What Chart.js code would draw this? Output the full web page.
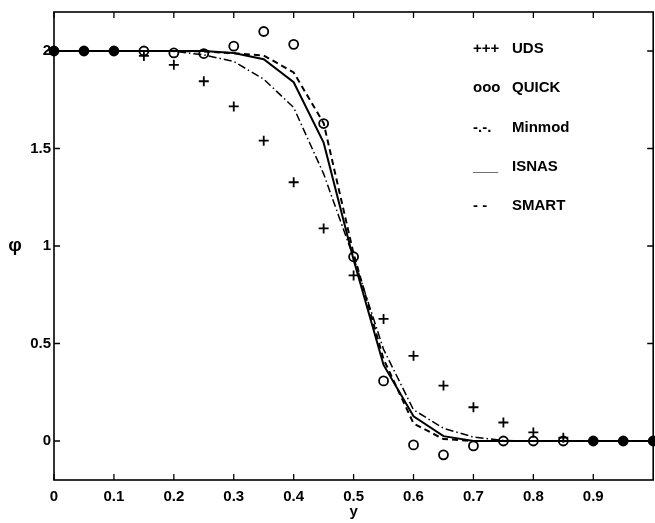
<!DOCTYPE html>
<html>
<head>
<meta charset="utf-8">
<script src="https://cdn.jsdelivr.net/npm/chart.js@4.4.1/dist/chart.umd.min.js"></script>
<style>
  html, body { margin: 0; padding: 0; background: #fff; overflow: hidden; }
  #graphDiv { width: 660px; height: 523px; }
</style>
</head>
<body>
<div id="graphDiv"><canvas id="dataChart" width="660" height="523"></canvas></div>
<script>
// Positions le long de y
const xs = [0, 0.05, 0.1, 0.15, 0.2, 0.25, 0.3, 0.35, 0.4, 0.45, 0.5,
            0.55, 0.6, 0.65, 0.7, 0.75, 0.8, 0.85, 0.9, 0.95, 1.0];

// Valeurs de phi pour chaque schéma
const uds    = [2, 2, 2, 1.975, 1.929, 1.845, 1.716, 1.54, 1.327, 1.09, 0.849,
                0.626, 0.437, 0.284, 0.173, 0.095, 0.044, 0.017, 0, 0, 0];
const quick  = [2, 2, 2, 2, 1.99, 1.987, 2.025, 2.10, 2.034, 1.628, 0.945,
                0.308, -0.02, -0.071, -0.025, 0, 0, 0, 0, 0, 0];
const minmod = [2, 2, 2, 2, 1.998, 1.98, 1.946, 1.856, 1.71, 1.37, 0.94,
                0.47, 0.16, 0.065, 0.02, 0.003, 0, 0, 0, 0, 0];
const isnas  = [2, 2, 2, 2, 2, 2, 1.99, 1.958, 1.84, 1.53, 0.93,
                0.39, 0.127, 0.025, 0, 0, 0, 0, 0, 0, 0];
const smart  = [2, 2, 2, 2, 2, 1.998, 1.988, 1.977, 1.89, 1.63, 0.96,
                0.42, 0.09, 0.01, 0, 0, 0, 0, 0, 0, 0];

// Graduations
const xTicks = [0, 0.1, 0.2, 0.3, 0.4, 0.5, 0.6, 0.7, 0.8, 0.9];
const yTicks = [0, 0.5, 1, 1.5, 2];

// Légende
const legendNames = ['UDS', 'QUICK', 'Minmod', 'ISNAS', 'SMART'];
const legendSymbols = ['+++', 'ooo', '-.-.', '___', '- -'];

const FONT = 'bold 15px "Liberation Sans", Arial, sans-serif';

function toPoints(values) {
    return values.map((v, i) => ({ x: xs[i], y: v }));
}

// Cadre, graduations vers l'intérieur, titres et légende
const framePlugin = {
    id: 'frame',
    afterDraw(chart) {
        const ctx = chart.ctx;
        const a = chart.chartArea;
        const sx = chart.scales.x;
        const sy = chart.scales.y;
        const t = 6;
        ctx.save();
        ctx.strokeStyle = '#000';
        ctx.lineWidth = 1.6;
        ctx.strokeRect(a.left, a.top, a.right - a.left, a.bottom - a.top);
        ctx.lineWidth = 1.3;
        ctx.beginPath();
        xTicks.forEach(v => {
            const px = sx.getPixelForValue(v);
            ctx.moveTo(px, a.bottom); ctx.lineTo(px, a.bottom - t);
            ctx.moveTo(px, a.top); ctx.lineTo(px, a.top + t);
        });
        yTicks.forEach(v => {
            const py = sy.getPixelForValue(v);
            ctx.moveTo(a.left, py); ctx.lineTo(a.left + t, py);
            ctx.moveTo(a.right, py); ctx.lineTo(a.right - t, py);
        });
        ctx.stroke();

        // Titres des axes
        ctx.fillStyle = '#000';
        ctx.textAlign = 'center';
        ctx.textBaseline = 'middle';
        ctx.font = 'bold 19px "Liberation Sans", Arial, sans-serif';
        ctx.fillText('\u03C6', 15, sy.getPixelForValue(1));
        ctx.font = FONT;
        ctx.fillText('y', sx.getPixelForValue(0.5), 512);

        // Légende
        ctx.textAlign = 'left';
        legendNames.forEach((name, i) => {
            const y = 49 + i * 39.2;
            ctx.fillText(legendSymbols[i], 473, y);
            ctx.fillText(name, 512, y);
        });
        ctx.restore();
    }
};

const ctx = document.getElementById('dataChart').getContext('2d');

const dataChart = new Chart(ctx, {
    type: 'line',
    data: {
        datasets: [
            {
                label: 'Minmod',
                data: toPoints(minmod),
                borderColor: '#000',
                borderWidth: 1.5,
                borderDash: [8, 3, 1.5, 3],
                pointRadius: 0
            },
            {
                label: 'SMART',
                data: toPoints(smart),
                borderColor: '#000',
                borderWidth: 2,
                borderDash: [6, 4],
                pointRadius: 0
            },
            {
                label: 'ISNAS',
                data: toPoints(isnas),
                borderColor: '#000',
                borderWidth: 2,
                pointRadius: 0
            },
            {
                label: 'QUICK',
                data: toPoints(quick),
                showLine: false,
                clip: false,
                pointStyle: 'circle',
                pointRadius: 4.5,
                pointBorderWidth: 1.8,
                pointBorderColor: '#000',
                // les marqueurs confondus avec UDS paraissent pleins
                pointBackgroundColor: c => Math.abs(uds[c.dataIndex] - quick[c.dataIndex]) < 0.005 ? '#000' : 'rgba(255,255,255,0)'
            },
            {
                label: 'UDS',
                data: toPoints(uds),
                showLine: false,
                clip: false,
                pointStyle: 'cross',
                pointRadius: 5,
                pointBorderWidth: 1.8,
                pointBorderColor: '#000'
            }
        ]
    },
    options: {
        responsive: false,
        animation: false,
        devicePixelRatio: 1,
        layout: { padding: { top: 8, right: 3, left: 0, bottom: 0 } },
        plugins: {
            legend: { display: false },
            tooltip: { enabled: false }
        },
        elements: { line: { tension: 0 } },
        scales: {
            x: {
                type: 'linear',
                min: 0,
                max: 1,
                grid: { display: false, drawTicks: false },
                border: { display: false },
                afterBuildTicks: s => { s.ticks = xTicks.map(v => ({ value: v })); },
                afterFit: s => { s.height = 43; },
                ticks: {
                    color: '#000',
                    font: { family: '"Liberation Sans", Arial, sans-serif', size: 15, weight: 'bold' },
                    padding: 8,
                    maxRotation: 0,
                    callback: v => String(v)
                }
            },
            y: {
                min: -0.2,
                max: 2.2,
                grid: { display: false, drawTicks: false },
                border: { display: false },
                afterBuildTicks: s => { s.ticks = yTicks.map(v => ({ value: v })); },
                afterFit: s => { s.width = 54; },
                ticks: {
                    color: '#000',
                    font: { family: '"Liberation Sans", Arial, sans-serif', size: 15, weight: 'bold' },
                    padding: 3,
                    callback: v => String(v)
                }
            }
        }
    },
    plugins: [framePlugin]
});
</script>
</body>
</html>
